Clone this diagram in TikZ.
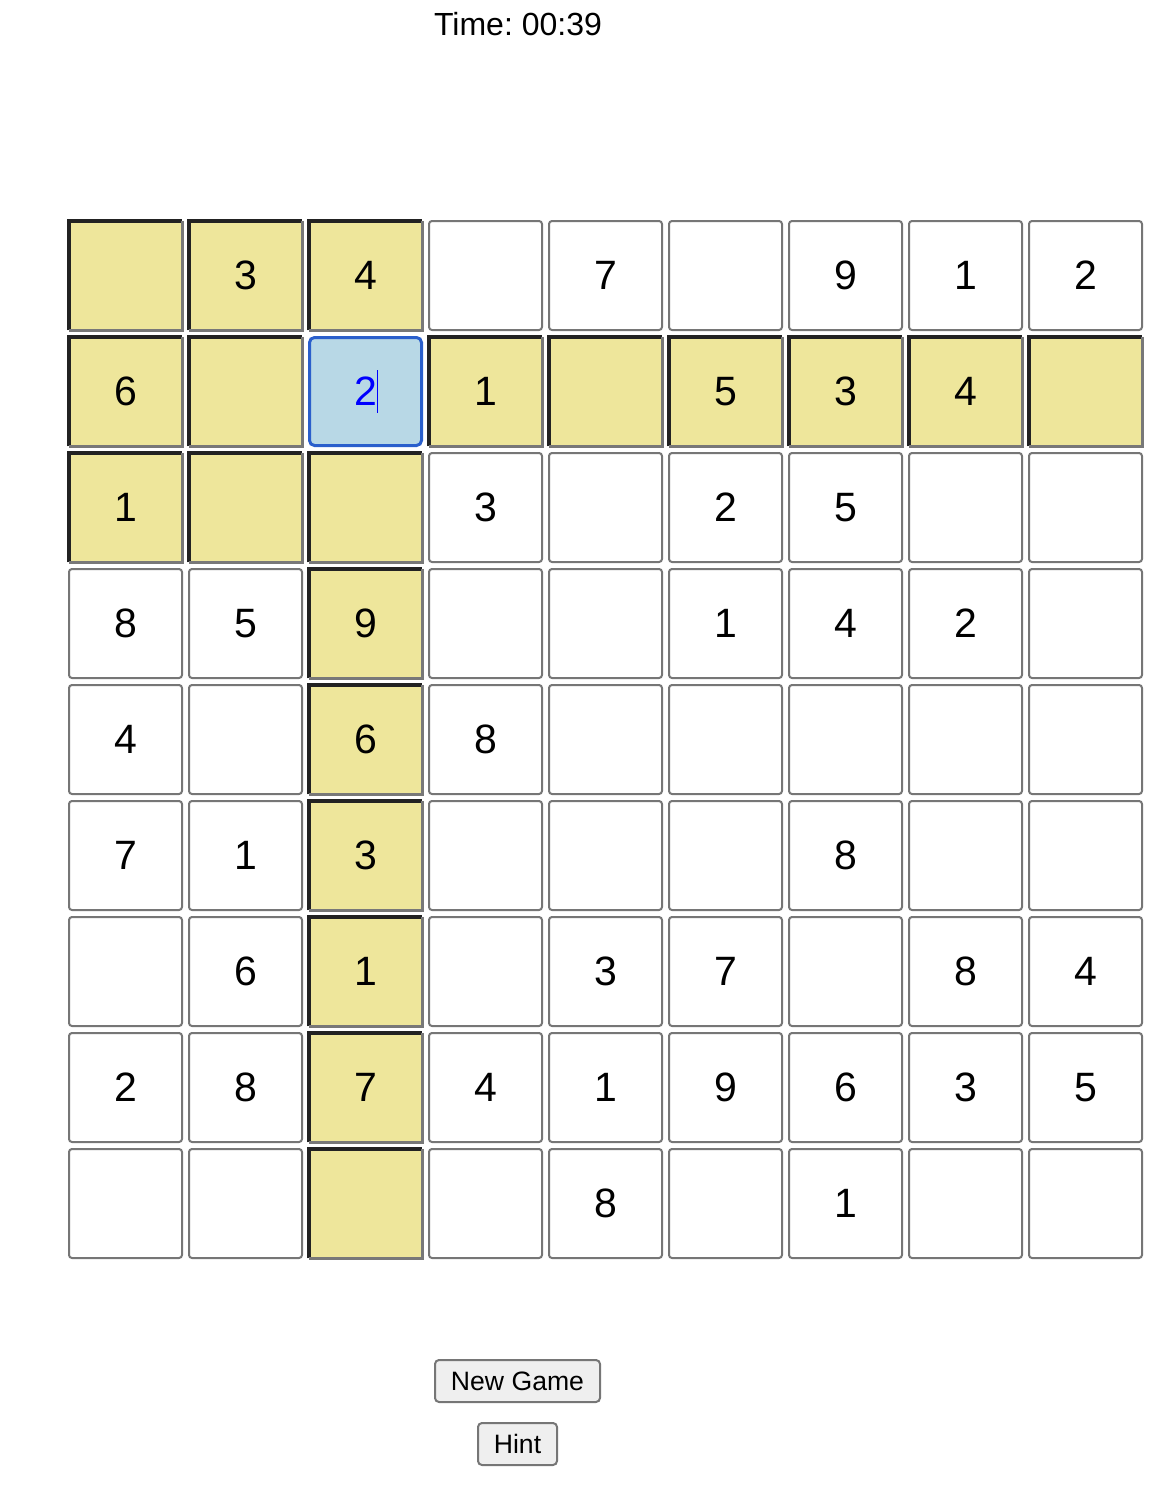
\documentclass[tikz,border=0pt]{standalone}
\usepackage{fontspec}
\setmainfont{Liberation Sans}
\frenchspacing
\definecolor{cellyellow}{HTML}{EEE69B}
\definecolor{cellgray}{HTML}{767676}
\definecolor{edgedark}{HTML}{222222}
\definecolor{edgelight}{HTML}{787878}
\definecolor{selfill}{HTML}{B8D8E6}
\definecolor{selblue}{HTML}{2A5FCC}
\definecolor{btnfill}{HTML}{EFEFEF}

\begin{document}
\begin{tikzpicture}[
    x=0.5pt, y=-0.5pt,
    cell/.style={draw=cellgray,line width=1pt,rounded corners=1.5pt,fill=white,
      minimum width=56.5pt,minimum height=54.5pt,inner sep=0pt,
      font=\fontsize{20.5pt}{24pt}\selectfont},
    hilite/.style={cell,draw=none,fill=cellyellow,rounded corners=0pt,
      minimum width=55.75pt,minimum height=53.75pt},
    selcell/.style={cell,draw=selblue,line width=1.5pt,rounded corners=2.5pt,
      fill=selfill,text=blue,minimum width=56pt,minimum height=54pt},
    topedge/.style={draw=edgedark,line width=1.75pt},
    botedge/.style={draw=edgelight,line width=1.75pt},
    btn/.style={draw=cellgray,line width=1pt,rounded corners=2pt,fill=btnfill,
      minimum height=21pt,inner sep=0pt,font=\fontsize{13.3pt}{16pt}\selectfont},
  ]
  \useasboundingbox (0,0) rectangle (1176,1504);

  % Timer
  \node[font=\fontsize{16pt}{19pt}\selectfont] (timer) at (518,24) {Time: 00:39};

  % Board (0 = empty cell)
  \foreach \vals [count=\r from 0] in {
      {0,3,4,0,7,0,9,1,2},
      {6,0,2,1,0,5,3,4,0},
      {1,0,0,3,0,2,5,0,0},
      {8,5,9,0,0,1,4,2,0},
      {4,0,6,8,0,0,0,0,0},
      {7,1,3,0,0,0,8,0,0},
      {0,6,1,0,3,7,0,8,4},
      {2,8,7,4,1,9,6,3,5},
      {0,0,0,0,8,0,1,0,0}}
    \foreach \v [count=\c from 0] in \vals {
      \pgfmathtruncatemacro\hl{(\r==1)||(\c==2)||((\r<3)&&(\c<3))}
      \pgfmathtruncatemacro\sel{(\r==1)&&(\c==2)}
      \ifnum\sel=1
        \node[selcell] (c\r\c) at (125.5+120*\c,275.5+116*\r) {\v};
      \else\ifnum\hl=1
        \node[hilite] (c\r\c) at (125.5+120*\c,275.5+116*\r) {\ifnum\v=0 \else\v\fi};
        \draw[topedge] (c\r\c.south west) -- (c\r\c.north west) -- (c\r\c.north east);
        \draw[botedge] (c\r\c.north east) -- (c\r\c.south east) -- (c\r\c.south west);
      \else
        \node[cell] (c\r\c) at (125.5+120*\c,275.5+116*\r) {\ifnum\v=0 \else\v\fi};
      \fi\fi
    }

  % Caret in the selected cell
  \draw[blue,line width=0.6pt] ([xshift=5.9pt,yshift=10.75pt]c12.center)
    -- ([xshift=5.9pt,yshift=-10.75pt]c12.center);

  % Buttons
  \node[btn,minimum width=82.5pt] (newgame) at (517.5,1381) {New Game};
  \node[btn,minimum width=39.5pt] (hint) at (517.5,1444) {Hint};
\end{tikzpicture}
\end{document}
